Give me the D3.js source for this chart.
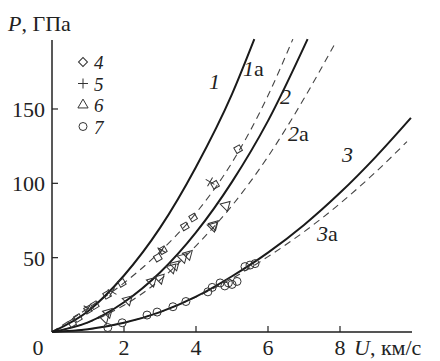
<!DOCTYPE html>
<html>
<head>
<meta charset="utf-8">
<script src="https://cdn.jsdelivr.net/npm/d3@7"></script>
<style>
  body { margin: 0; background: #fff; }
</style>
</head>
<body>
<div id="chart"></div>
<script>
// shock curves, P (GPa) against U (km/s)
const curve1  = [[0,0],[1,14],[2,38],[3,70],[4,111],[5,160],[5.62,197]];
const curve1a = [[0,0],[1,16],[2,33],[3,54],[4,80],[5,114],[6,159],[6.69,197]];
const curve2  = [[0,0],[1,6.5],[2,20],[3,40],[4,67],[5,101],[6,142],[7.1,197]];
const curve2a = [[0,0],[1,6.4],[2,18],[3,35],[4,58],[5,85],[6,118],[7,157],[7.86,194]];
const curve3  = [[0,0],[1,1.8],[2,6.2],[3,13.4],[4,23.8],[5,37.5],[6,53.4],[7,72],[8,93.6],[9,118],[9.97,144]];
const curve3a = [[0,0],[1,1.8],[2,6.2],[3,13.4],[4,23.5],[5,36],[6,50.7],[7,67.4],[8,86.4],[9,107.8],[9.86,128]];

// experimental points
const pts4 = [[0.56,6],[0.72,9.4],[1.0,15],[1.19,18],[1.53,25],[1.94,33],[2.94,50],[3.08,55],[3.69,71],[3.92,77],[4.53,99],[5.17,123]];
const pts5 = [[1.67,27],[3.05,55],[4.39,101],[1.0,16]];
const pts6 = [[1.47,9.4],[1.56,13],[2.11,21.5],[2.78,34],[3.0,36],[3.33,43],[3.42,45],[3.64,50],[3.78,52],[4.47,71],[4.5,72],[4.83,85]];
const pts7 = [[1.55,3],[1.95,6.2],[2.64,11.4],[2.92,13.4],[3.36,17],[3.72,20.5],[4.33,27],[4.45,30],[4.67,33],[4.8,31],[4.9,33],[5.0,32],[5.14,34],[5.36,44],[5.5,45],[5.64,46]];

const xTicks = [2, 4, 6, 8];
const yTicks = [50, 100, 150];

const FONT = '"Liberation Serif", "Times New Roman", Tinos, "DejaVu Serif", serif';

const width = 440, height = 361;
const svg = d3.select('#chart').append('svg')
    .attr('width', width)
    .attr('height', height)
    .attr('font-family', FONT);

const x = d3.scaleLinear().domain([0, 10]).range([52, 412]);
const y = d3.scaleLinear().domain([0, 196.4]).range([332, 40]);

function txt(sel) {
    return sel.attr('font-family', FONT).attr('fill', '#222');
}

// axes
svg.append('line')
    .attr('x1', x(0)).attr('x2', x(10))
    .attr('y1', y(0)).attr('y2', y(0))
    .attr('stroke', '#555').attr('stroke-width', 2);
svg.append('line')
    .attr('x1', x(0)).attr('x2', x(0))
    .attr('y1', y(0)).attr('y2', y(196.4))
    .attr('stroke', '#222').attr('stroke-width', 1.5);

svg.selectAll('.xtick').data(xTicks).enter().append('line')
    .attr('x1', d => x(d)).attr('x2', d => x(d))
    .attr('y1', y(0)).attr('y2', y(0) - 6)
    .attr('stroke', '#222').attr('stroke-width', 1.2);
svg.selectAll('.ytick').data(yTicks).enter().append('line')
    .attr('x1', x(0)).attr('x2', x(0) + 6)
    .attr('y1', d => y(d)).attr('y2', d => y(d))
    .attr('stroke', '#222').attr('stroke-width', 1.2);

txt(svg.selectAll('.xlab').data(xTicks).enter().append('text'))
    .attr('x', d => x(d)).attr('y', 355)
    .attr('text-anchor', 'middle')
    .attr('font-size', 22)
    .text(d => d);
txt(svg.append('text'))
    .attr('x', 38).attr('y', 355)
    .attr('text-anchor', 'middle')
    .attr('font-size', 22)
    .text('0');
txt(svg.selectAll('.ylab').data(yTicks).enter().append('text'))
    .attr('x', 45).attr('y', d => y(d) + 8)
    .attr('text-anchor', 'end')
    .attr('font-size', 22)
    .text(d => d);

// axis titles
const xt = txt(svg.append('text')).attr('x', 354).attr('y', 355).attr('font-size', 22);
xt.append('tspan').attr('font-style', 'italic').text('U');
xt.append('tspan').text(', км/с');
const yt = txt(svg.append('text')).attr('x', 8).attr('y', 31).attr('font-size', 22);
yt.append('tspan').attr('font-style', 'italic').text('P');
yt.append('tspan').text(', ГПа');

// curves
const line = d3.line()
    .x(d => x(d[0]))
    .y(d => y(d[1]))
    .curve(d3.curveMonotoneX);

[curve1a, curve2a, curve3a].forEach(c => {
    svg.append('path')
        .attr('d', line(c))
        .attr('fill', 'none')
        .attr('stroke', '#444')
        .attr('stroke-width', 1.1)
        .attr('stroke-dasharray', '7,5');
});
[curve1, curve2, curve3].forEach(c => {
    svg.append('path')
        .attr('d', line(c))
        .attr('fill', 'none')
        .attr('stroke', '#1a1a1a')
        .attr('stroke-width', 2);
});

// markers
const mk = svg.append('g')
    .attr('fill', 'none')
    .attr('stroke', '#333')
    .attr('stroke-width', 1);

const sq = d3.symbol().type(d3.symbolSquare).size(40);
mk.selectAll('.p4').data(pts4).enter().append('path')
    .attr('d', sq)
    .attr('transform', d => `translate(${x(d[0])},${y(d[1])}) rotate(-30)`);

mk.selectAll('.p5').data(pts5).enter().append('path')
    .attr('d', 'M-5,0H5M0,-5V5')
    .attr('transform', d => `translate(${x(d[0])},${y(d[1])}) rotate(30)`);

const tri = d3.symbol().type(d3.symbolTriangle).size(45);
mk.selectAll('.p6').data(pts6).enter().append('path')
    .attr('d', tri)
    .attr('transform', d => `translate(${x(d[0])},${y(d[1])}) rotate(-75)`);

mk.selectAll('.p7').data(pts7).enter().append('circle')
    .attr('cx', d => x(d[0]))
    .attr('cy', d => y(d[1]))
    .attr('r', 4);

// legend
const legendItems = [
    { label: '4', shape: 'diamond' },
    { label: '5', shape: 'plus' },
    { label: '6', shape: 'triangle' },
    { label: '7', shape: 'circle' }
];
const lg = svg.append('g').attr('transform', 'translate(83, 62)');
legendItems.forEach((d, i) => {
    const gy = i * 21.5;
    let m;
    if (d.shape === 'diamond') {
        m = lg.append('path').attr('d', sq).attr('transform', `translate(0,${gy}) rotate(45)`);
    } else if (d.shape === 'plus') {
        m = lg.append('path').attr('d', 'M-5,0H5M0,-5V5').attr('transform', `translate(0,${gy})`);
    } else if (d.shape === 'triangle') {
        m = lg.append('path').attr('d', tri).attr('transform', `translate(0,${gy})`);
    } else {
        m = lg.append('circle').attr('cx', 0).attr('cy', gy).attr('r', 4);
    }
    m.attr('fill', 'none').attr('stroke', '#333').attr('stroke-width', 1);
    txt(lg.append('text'))
        .attr('x', 11).attr('y', gy + 7)
        .attr('font-size', 19)
        .attr('font-style', 'italic')
        .text(d.label);
});

// curve labels
const curveLabels = [
    { num: '1', suf: '', x: 209, y: 89 },
    { num: '1', suf: 'а', x: 243, y: 76 },
    { num: '2', suf: '', x: 280, y: 104 },
    { num: '2', suf: 'а', x: 288, y: 141 },
    { num: '3', suf: '', x: 342, y: 162 },
    { num: '3', suf: 'а', x: 317, y: 241 }
];
curveLabels.forEach(d => {
    const t = txt(svg.append('text')).attr('x', d.x).attr('y', d.y).attr('font-size', 22);
    t.append('tspan').attr('font-style', 'italic').text(d.num);
    if (d.suf) t.append('tspan').text(d.suf);
});
</script>
</body>
</html>
